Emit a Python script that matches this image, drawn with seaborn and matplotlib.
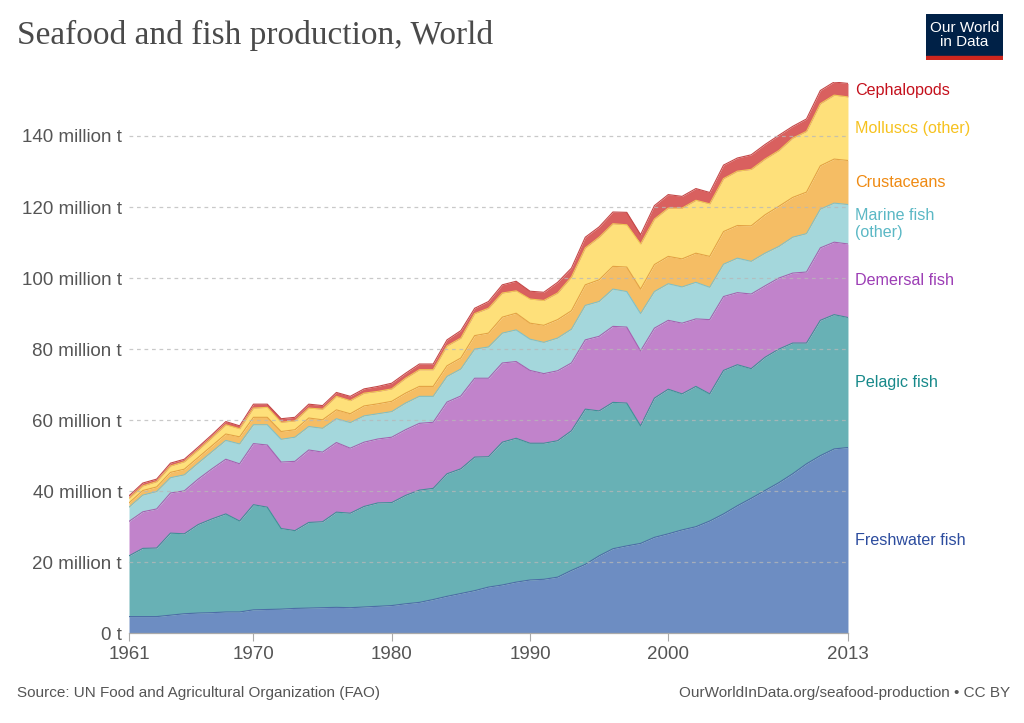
import numpy as np
import pandas as pd
import matplotlib
matplotlib.use('Agg')
import matplotlib.pyplot as plt
import seaborn as sns

# =========================
# DATA (million tonnes)
# =========================
years = list(range(1961, 2014))

freshwater = [4.7, 4.7, 4.7, 5.1, 5.5, 5.7, 5.8, 6.0, 6.0, 6.6,
              6.7, 6.8, 7.0, 7.1, 7.2, 7.3, 7.2, 7.4, 7.6, 7.8,
              8.3, 8.7, 9.5, 10.4, 11.2, 12.0, 13.0, 13.6, 14.4, 15.0,
              15.2, 15.8, 17.7, 19.4, 21.8, 23.8, 24.6, 25.3, 27.0, 28.0,
              29.1, 30.0, 31.6, 33.6, 35.9, 38.0, 40.2, 42.4, 44.9, 47.7,
              50.0, 51.9, 52.3]
pelagic = [17.1, 19.2, 19.3, 23.1, 22.5, 24.9, 26.4, 27.6, 25.6, 29.6,
           28.8, 22.7, 21.9, 24.1, 24.2, 26.8, 26.6, 28.3, 29.1, 29.0,
           30.5, 31.6, 31.3, 34.5, 35.1, 37.6, 36.7, 40.2, 40.5, 38.5,
           38.3, 38.4, 39.3, 43.7, 40.8, 41.2, 40.2, 33.1, 39.2, 40.7,
           38.3, 39.5, 35.8, 40.4, 39.7, 36.5, 37.5, 37.6, 36.8, 34.0,
           38.1, 37.8, 36.6]
demersal = [9.7, 10.3, 11.0, 11.3, 12.1, 12.8, 14.1, 15.4, 16.1, 17.2,
            17.5, 18.7, 19.5, 20.4, 19.6, 19.6, 18.3, 18.1, 18.0, 18.4,
            18.5, 18.8, 18.6, 20.2, 20.5, 22.2, 22.1, 22.3, 21.6, 20.5,
            19.6, 19.7, 19.1, 19.5, 21.0, 21.4, 21.4, 21.1, 19.7, 19.4,
            19.9, 19.0, 20.9, 20.8, 20.3, 21.0, 20.1, 20.0, 19.7, 20.0,
            20.4, 20.4, 20.7]
marine_other = [4.0, 4.7, 4.9, 4.3, 4.5, 4.5, 4.8, 5.3, 5.6, 5.3,
                5.7, 6.4, 6.8, 6.6, 6.7, 6.7, 7.2, 7.4, 7.1, 7.2,
                7.5, 7.6, 7.3, 7.2, 7.6, 8.2, 8.8, 8.4, 8.9, 8.8,
                8.8, 9.2, 9.5, 9.7, 9.8, 10.5, 10.0, 10.5, 10.3, 10.3,
                10.2, 10.3, 9.1, 9.1, 9.7, 9.2, 9.2, 8.9, 10.1, 10.8,
                10.9, 11.0, 11.1]
crustaceans = [1.2, 1.3, 1.3, 1.5, 1.6, 1.6, 1.7, 1.8, 2.0, 2.1,
               2.1, 2.2, 2.1, 2.4, 2.4, 2.5, 2.5, 2.8, 2.8, 2.9,
               2.8, 2.8, 2.8, 3.0, 3.1, 3.8, 3.9, 4.5, 4.7, 4.5,
               4.8, 5.2, 5.2, 5.8, 6.1, 6.4, 6.9, 6.9, 7.6, 7.7,
               7.9, 8.2, 8.7, 9.2, 9.2, 10.0, 10.8, 11.3, 11.2, 11.7,
               12.2, 12.4, 12.4]
molluscs = [1.3, 1.3, 1.5, 1.8, 2.1, 2.1, 2.3, 2.6, 2.3, 2.6,
            2.8, 2.6, 2.5, 2.8, 3.0, 3.8, 3.7, 3.6, 3.5, 3.5,
            4.2, 4.7, 4.7, 5.6, 5.6, 6.2, 7.0, 6.8, 6.3, 6.8,
            7.0, 7.5, 9.5, 10.4, 12.0, 12.0, 11.9, 12.7, 12.8, 13.6,
            14.3, 14.9, 14.8, 14.9, 15.3, 15.9, 15.7, 15.7, 16.7, 17.1,
            17.5, 18.0, 17.9]
cephalopods = [0.7, 0.8, 0.7, 0.8, 0.7, 0.8, 0.8, 0.9, 0.8, 1.1,
               0.9, 1.0, 1.0, 1.1, 1.0, 1.1, 1.2, 1.2, 1.4, 1.6,
               1.4, 1.6, 1.6, 1.7, 2.1, 1.5, 1.9, 2.3, 2.7, 2.2,
               2.3, 3.0, 2.5, 3.0, 2.9, 3.3, 3.5, 2.6, 3.8, 3.8,
               3.3, 3.3, 3.2, 3.8, 3.7, 4.1, 4.1, 4.3, 3.3, 3.5,
               3.7, 3.7, 3.8]

series_names = ['Freshwater fish', 'Pelagic fish', 'Demersal fish', 'Marine fish\n(other)',
                'Crustaceans', 'Molluscs (other)', 'Cephalopods']
fill_colors = ['#6d8dc2', '#68b1b5', '#c183cb', '#a4d7dc', '#f5bd64', '#fee07a', '#d9605f']
edge_colors = ['#4d6da6', '#3f9096', '#a462b0', '#80c0c7', '#e3a244', '#f0c954', '#c44848']
label_colors = ['#2c4c9e', '#17898a', '#9c3db5', '#5bb8c5', '#ef8a12', '#f6c21f', '#c4101c']

xtick_years = [1961, 1970, 1980, 1990, 2000, 2013]
ytick_vals = [0, 20, 40, 60, 80, 100, 120, 140]

df = pd.DataFrame({
    'year': years,
    'Freshwater fish': freshwater,
    'Pelagic fish': pelagic,
    'Demersal fish': demersal,
    'Marine fish (other)': marine_other,
    'Crustaceans': crustaceans,
    'Molluscs (other)': molluscs,
    'Cephalopods': cephalopods,
})
cols = df.columns[1:]

# =========================
# PLOT
# =========================
sns.set_theme(style='white')
plt.rcParams['font.family'] = ['Liberation Sans', 'DejaVu Sans']

fig = plt.figure(figsize=(10.24, 7.23), dpi=100)
ax = fig.add_axes([0.126, 0.1241, 0.7021, 0.7625])

ax.stackplot(df['year'], *[df[c] for c in cols], colors=fill_colors,
             edgecolor=None, linewidth=0, zorder=1)
cum = df[cols].cumsum(axis=1)
for i, c in enumerate(cols):
    ax.plot(df['year'], cum[c], color=edge_colors[i], lw=0.8, zorder=2)

ymax = cum.iloc[:, -1].max()
ax.set_xlim(1961, 2013)
ax.set_ylim(0, ymax)

# grid on top, faint dashed
for v in ytick_vals[1:]:
    ax.axhline(v, color='#b8b8b8', lw=0.9, ls=(0, (3, 3)), alpha=0.75, zorder=3)

ax.set_yticks(ytick_vals)
ax.set_yticklabels(['0 t' if v == 0 else f'{v} million t' for v in ytick_vals])
ax.set_xticks(xtick_years)
ax.set_xticklabels([str(y) for y in xtick_years])
ax.tick_params(axis='y', length=0, pad=5, labelsize=13.5, labelcolor='#555555')
ax.tick_params(axis='x', length=6, width=0.8, color='#aaaaaa', pad=3,
               labelsize=13.5, labelcolor='#555555', bottom=True)

sns.despine(ax=ax, left=True, top=True, right=True)
ax.spines['bottom'].set_color('#aaaaaa')
ax.spines['bottom'].set_linewidth(0.9)
ax.spines['bottom'].set_zorder(4)

# right-side series labels at band midpoints for the last year
last = df[cols].iloc[-1].values
tops = np.cumsum(last)
mids = tops - last / 2
for i, name in enumerate(series_names):
    ax.annotate(name, xy=(2013, mids[i]), xytext=(5, 0), textcoords='offset points',
                ha='left', va='center', fontsize=11.6, color=label_colors[i],
                linespacing=1.15, annotation_clip=False)

# title
fig.text(17 / 1024, 1 - 35 / 723, 'Seafood and fish production, World',
         fontsize=24, family=['Liberation Serif', 'DejaVu Serif'], color='#4a4a4a',
         ha='left', va='center')

# logo
logo = fig.add_axes([926 / 1024, 1 - 60 / 723, 77 / 1024, 46 / 723])
logo.set_xlim(0, 1)
logo.set_ylim(0, 1)
logo.axis('off')
logo.add_patch(plt.Rectangle((0, 0.09), 1, 0.91, color='#002147'))
logo.add_patch(plt.Rectangle((0, 0), 1, 0.09, color='#ce261e'))
logo.text(0.5, 0.55, 'Our World\nin Data', color='white', fontsize=11,
          ha='center', va='center', linespacing=1.0)

# footer
fig.text(17 / 1024, 1 - 693 / 723, 'Source: UN Food and Agricultural Organization (FAO)',
         fontsize=11, color='#555555', ha='left', va='center')
fig.text(1010 / 1024, 1 - 693 / 723, 'OurWorldInData.org/seafood-production \u2022 CC BY',
         fontsize=11, color='#555555', ha='right', va='center')

fig.savefig('out.png', dpi=100)
plt.close(fig)
